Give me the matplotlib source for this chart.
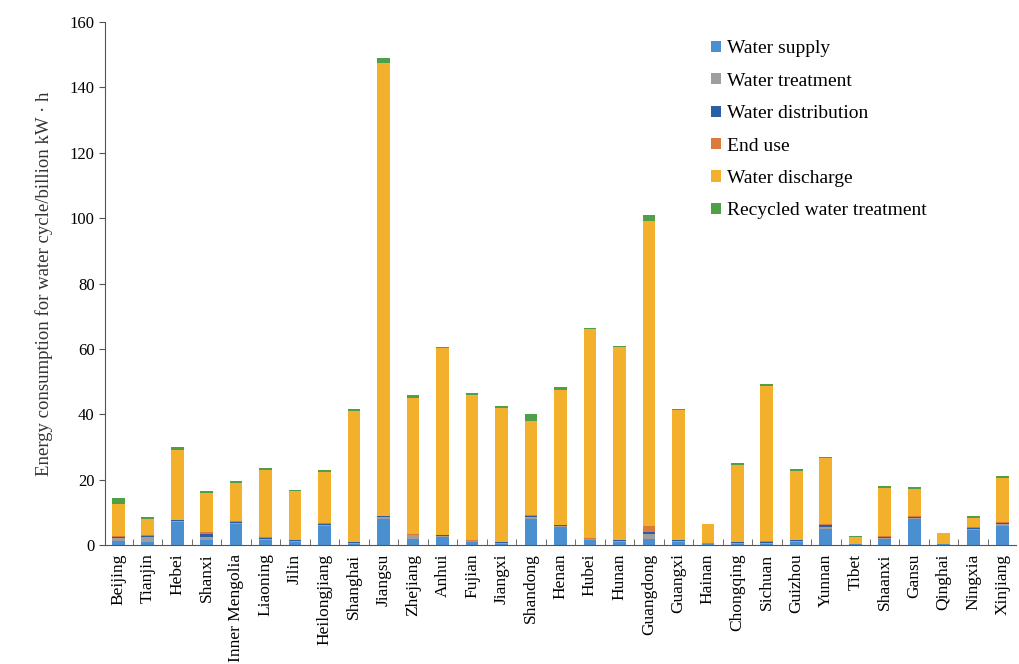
import matplotlib

matplotlib.use('Agg')
import matplotlib.pyplot as plt
import numpy as np

provinces = [
    'Beijing', 'Tianjin', 'Hebei', 'Shanxi', 'Inner Mengolia', 'Liaoning',
    'Jilin', 'Heilongjiang', 'Shanghai', 'Jiangsu', 'Zhejiang', 'Anhui',
    'Fujian', 'Jiangxi', 'Shandong', 'Henan', 'Hubei', 'Hunan', 'Guangdong',
    'Guangxi', 'Hainan', 'Chongqing', 'Sichuan', 'Guizhou', 'Yunnan', 'Tibet',
    'Shaanxi', 'Gansu', 'Qinghai', 'Ningxia', 'Xinjiang',
]

# 100 million kW·h per stage of the water cycle
water_supply = [1.2, 1.0, 7.0, 1.5, 6.5, 1.5, 1.0, 6.0, 0.5, 8.0, 2.0, 2.5,
                1.0, 0.5, 8.0, 5.5, 1.5, 1.0, 2.0, 1.0, 0.3, 0.5, 0.5, 1.0,
                5.0, 0.2, 2.0, 8.0, 0.2, 4.5, 6.0]
water_treatment = [1.0, 1.5, 0.3, 1.0, 0.3, 0.5, 0.3, 0.3, 0.2, 0.5, 1.0, 0.3,
                   0.2, 0.2, 0.5, 0.3, 0.3, 0.3, 1.5, 0.3, 0.1, 0.2, 0.3, 0.3,
                   0.5, 0.1, 0.3, 0.3, 0.1, 0.5, 0.5]
water_distribution = [0.3, 0.2, 0.3, 1.0, 0.3, 0.2, 0.2, 0.2, 0.2, 0.3, 0.2,
                      0.2, 0.2, 0.2, 0.5, 0.3, 0.2, 0.2, 0.5, 0.2, 0.1, 0.2,
                      0.2, 0.2, 0.8, 0.1, 0.2, 0.3, 0.1, 0.3, 0.3]
end_use = [0.3, 0.3, 0.2, 0.5, 0.2, 0.2, 0.2, 0.2, 0.1, 0.2, 0.3, 0.2, 0.1,
           0.1, 0.3, 0.2, 0.2, 0.2, 2.0, 0.2, 0.1, 0.1, 0.2, 0.2, 0.2, 0.1,
           0.2, 0.2, 0.1, 0.2, 0.2]
water_discharge = [9.7, 5.0, 21.2, 12.0, 11.7, 20.6, 14.8, 15.8, 40.0, 138.5,
                   41.5, 57.0, 44.5, 41.0, 28.7, 41.2, 63.8, 58.8, 93.0, 39.5,
                   5.9, 23.5, 47.5, 21.0, 20.0, 2.1, 14.8, 8.5, 3.1, 2.8, 13.5]
recycled_treatment = [2.0, 0.5, 1.0, 0.5, 0.5, 0.5, 0.5, 0.5, 0.5, 1.5, 1.0,
                      0.5, 0.5, 0.5, 2.0, 1.0, 0.5, 0.5, 2.0, 0.5, 0.1, 0.5,
                      0.5, 0.5, 0.5, 0.1, 0.5, 0.5, 0.1, 0.5, 0.5]

stages = [
    ('Water supply', water_supply, '#4a8fd0'),
    ('Water treatment', water_treatment, '#9e9e9e'),
    ('Water distribution', water_distribution, '#2c5ea8'),
    ('End use', end_use, '#dc7a3c'),
    ('Water discharge', water_discharge, '#f2b02c'),
    ('Recycled water treatment', recycled_treatment, '#4f9f48'),
]

plt.rcParams['font.family'] = ['Liberation Serif', 'DejaVu Serif']

fig = plt.figure(figsize=(10.19, 6.64), dpi=100)
ax = fig.add_axes([0.103, 0.179, 0.894, 0.788])

x = np.arange(len(provinces))
bottom = np.zeros(len(provinces))
for name, values, color in stages:
    ax.bar(x, values, width=0.43, bottom=bottom, color=color, label=name)
    bottom += np.array(values)

ax.set_xlim(-0.45, len(provinces) - 0.55)
ax.set_ylim(0, 160)
ax.set_yticks(np.arange(0, 161, 20))
ax.set_xticks(x)
ax.set_xticklabels(provinces, rotation=90, fontsize=12.5)
ax.set_xticks(x[:-1] + 0.5, minor=True)
ax.tick_params(axis='x', which='major', length=0, pad=6)
ax.tick_params(axis='x', which='minor', direction='in', length=4,
               color='#555555')
ax.tick_params(axis='y', labelsize=12, length=4, color='#555555')
ax.set_ylabel('Energy consumption for water cycle/billion kW · h',
              fontsize=13.5, labelpad=12, color='#333333')

for side in ('top', 'right'):
    ax.spines[side].set_visible(False)
for side in ('left', 'bottom'):
    ax.spines[side].set_color('#555555')

ax.legend(loc='upper left', bbox_to_anchor=(0.646, 0.998), frameon=False,
          fontsize=14, handlelength=0.5, handleheight=0.5,
          handletextpad=0.3, labelspacing=0.79)

fig.savefig('out.png', dpi=100)
